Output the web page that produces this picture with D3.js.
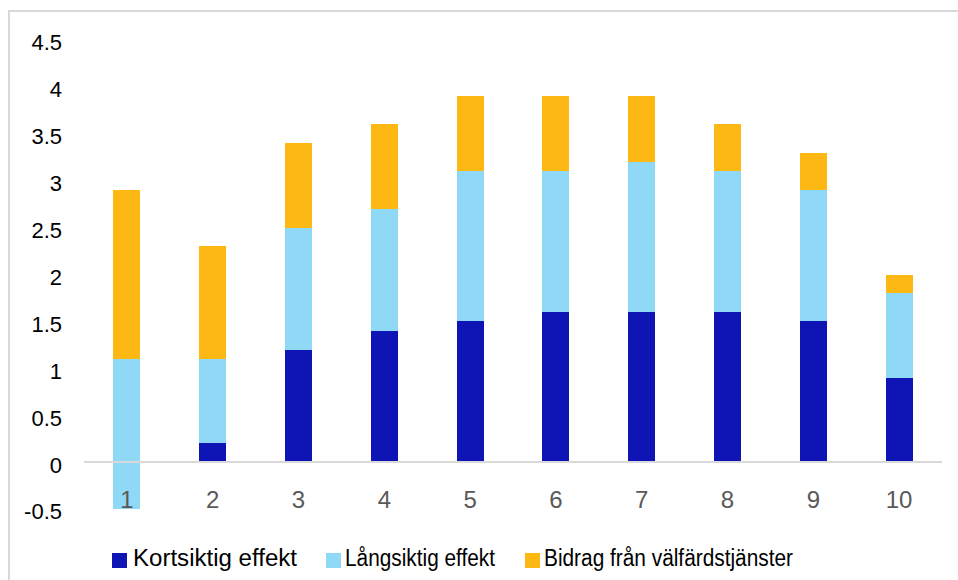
<!DOCTYPE html>
<html>
<head>
<meta charset="utf-8">
<script src="https://cdn.jsdelivr.net/npm/d3@7"></script>
<style>
  html, body { margin: 0; padding: 0; background: #fff; }
  svg { display: block; font-family: "Liberation Sans", Arial, sans-serif; }
</style>
</head>
<body>
<svg id="chart" width="958" height="580"></svg>
<script>
const categories = ["1", "2", "3", "4", "5", "6", "7", "8", "9", "10"];
const seriesNames = ["Kortsiktig effekt", "Långsiktig effekt", "Bidrag från välfärdstjänster"];
const kortsiktig = [-0.5, 0.2, 1.2, 1.4, 1.5, 1.6, 1.6, 1.6, 1.5, 0.9];
const langsiktig = [1.6, 0.9, 1.3, 1.3, 1.6, 1.5, 1.6, 1.5, 1.4, 0.9];
const bidrag = [1.8, 1.2, 0.9, 0.9, 0.8, 0.8, 0.7, 0.5, 0.4, 0.2];
const yTicks = [-0.5, 0, 0.5, 1, 1.5, 2, 2.5, 3, 3.5, 4, 4.5];
const colors = ["#0F14B4", "#8FD9F7", "#FDB813"];

const svg = d3.select("#chart");

// outer frame (clipped at right/bottom)
svg.append("rect")
  .attr("x", 9).attr("y", 11).attr("width", 1000).attr("height", 1000)
  .attr("fill", "none").attr("stroke", "#d9d9d9").attr("stroke-width", 2);

const plot = { left: 84, right: 942, top: 40, bottom: 509 };

const x = d3.scaleBand().domain(categories).range([plot.left, plot.right]).paddingInner(0.685).paddingOuter(0.3425);
const y = d3.scaleLinear().domain([-0.5, 4.5]).range([plot.bottom, plot.top]);

const table = categories.map((c, i) => ({ cat: c, k: kortsiktig[i], l: langsiktig[i], b: bidrag[i] }));
const stack = d3.stack().keys(["k", "l", "b"]).offset(d3.stackOffsetNone);
const stacked = stack(table);

svg.append("g").attr("shape-rendering", "crispEdges").selectAll("g")
  .data(stacked).join("g")
  .attr("fill", (d, i) => colors[i])
  .selectAll("rect")
  .data(d => d).join("rect")
  .attr("x", d => Math.round(x(d.data.cat)))
  .attr("width", Math.round(x.bandwidth()))
  .attr("y", d => Math.round(y(Math.max(d[0], d[1]))))
  .attr("height", d => Math.round(y(Math.min(d[0], d[1]))) - Math.round(y(Math.max(d[0], d[1]))));

// zero line
svg.append("line")
  .attr("x1", plot.left).attr("x2", plot.right)
  .attr("y1", y(0)).attr("y2", y(0))
  .attr("stroke", "#d9d9d9").attr("stroke-width", 2);

// y axis labels
const yAxis = d3.axisLeft(y).tickValues(yTicks).tickSize(0).tickPadding(0)
  .tickFormat(d => String(d));
const gy = svg.append("g").attr("transform", "translate(62,0)").call(yAxis);
gy.select(".domain").remove();
gy.selectAll("text")
  .attr("font-size", 22).attr("fill", "#000")
  .attr("font-family", "Liberation Sans, Arial, sans-serif")
  .attr("dy", "0.45em");

// x axis labels
const xAxis = d3.axisBottom(x).tickSize(0).tickPadding(0);
const gx = svg.append("g").attr("transform", "translate(0,508)").call(xAxis);
gx.select(".domain").remove();
gx.selectAll("text")
  .attr("font-size", 24).attr("fill", "#595959")
  .attr("font-family", "Liberation Sans, Arial, sans-serif")
  .attr("dy", 0).attr("y", 0);

// legend
const legendItems = [
  { name: seriesNames[0], color: colors[0], x: 112, w: 164 },
  { name: seriesNames[1], color: colors[1], x: 326, w: 150 },
  { name: seriesNames[2], color: colors[2], x: 525, w: 249 }
];
const lg = svg.append("g").selectAll("g").data(legendItems).join("g")
  .attr("transform", d => `translate(${d.x},553)`);
lg.append("rect").attr("width", 15).attr("height", 15).attr("fill", d => d.color);
lg.append("text")
  .attr("x", d => d.x === 112 ? 21 : 19).attr("y", 13)
  .attr("font-size", 23).attr("fill", "#000")
  .attr("textLength", d => d.w)
  .attr("lengthAdjust", "spacingAndGlyphs")
  .text(d => d.name);
</script>
</body>
</html>
